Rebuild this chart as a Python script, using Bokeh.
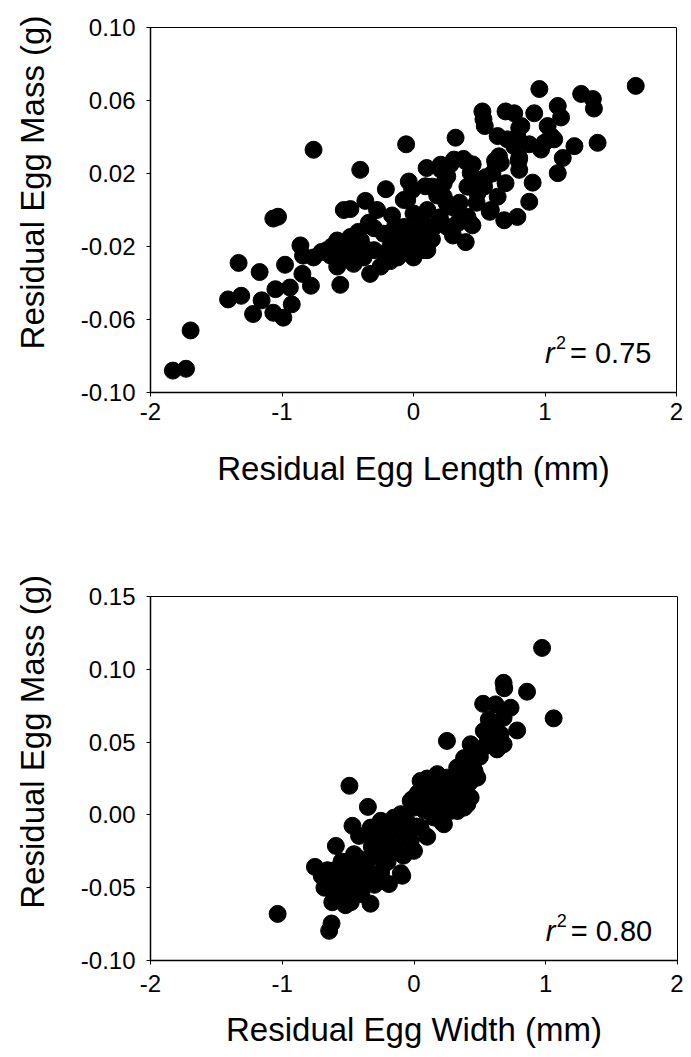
from bokeh.plotting import figure
from bokeh.models import Range1d, FixedTicker, PrintfTickFormatter, Label
from bokeh.layouts import column
from bokeh.embed import file_html
from bokeh.resources import INLINE

FONT = "Liberation Sans"

# ---- Panel 1: residual egg length vs residual egg mass ----
length_x = [-1.83, -1.73, -1.695, -1.41, -1.31, -1.33, -1.17, -1.155, -1.22, -1.066,
            -1.03, -1.05, -0.94, -0.926, -1.066, -0.99, -0.977, -0.845, -0.78, -0.86,
            -0.84, -0.76, -0.70, -0.66, -0.76, -0.58, -0.557, -0.58, -0.557, -0.53,
            -0.48, -0.48, -0.40, -0.455, -0.455, -0.33, -0.25, -0.176, -0.405, -0.366,
            -0.30, -0.227, -0.176, -0.30, -0.277, -0.163, -0.074, -0.21, -0.056, -0.036,
            -0.01, -0.048, -0.10, -0.023, 0.053, -0.048, 0.0, -0.074, 0.0, 0.053,
            0.105, 0.10, 0.053, 0.105, 0.155, 0.257, 0.333, 0.105, 0.143, 0.23,
            0.257, 0.23, 0.282, 0.333, 0.41, 0.448, 0.397, 0.206, 0.308, 0.397,
            0.435, 0.448, 0.486, 0.41, 0.537, 0.32, 0.65, 0.626, 0.664, 0.804,
            0.804, 0.906, 0.88, 0.70, 0.64, 0.588, 0.69, 0.79, 0.524, 0.532,
            0.542, 0.70, 0.766, 0.918, 0.957, 1.097, 1.122, 1.275, 1.364, 1.372,
            0.804, 1.02, 1.046, 0.995, 0.97, 1.07, 0.88, 0.64, 0.715, 0.766,
            1.224, 1.40, 1.135, 1.097, 1.69, -0.34, -0.16, -0.11, 0.03, 0.08,
            0.18, 0.21, 0.28, 0.38, 0.35, 0.38, 0.43, 0.62, 0.79, 0.80,
            0.82, -0.63, -0.53, -0.38, -0.12, 0.45, 0.58, 0.09, -0.62, -0.50,
            -0.42, -0.35, -0.22, -0.14, -0.04, 0.02, 0.14, 0.20, 0.30, 0.25,
            0.48, 0.55, 0.60]
length_mass = [-0.088, -0.087, -0.066, -0.049, -0.047, -0.029, -0.034, -0.0495, -0.057, -0.0047,
               -0.0037, -0.0434, -0.0425, -0.0517, -0.0563, -0.059, -0.030, -0.035, -0.0415, -0.0194,
               -0.025, -0.026, -0.023, -0.022, 0.033, -0.0167, -0.024, -0.031, -0.041, 0.0,
               0.0005, -0.0148, -0.0167, -0.022, -0.0295, -0.035, -0.031, -0.028, 0.022, 0.005,
               -0.010, -0.013, -0.020, -0.022, 0.0, -0.003, 0.0055, 0.0114, 0.036, 0.0156,
               0.011, 0.0055, -0.0148, -0.024, -0.020, -0.0167, -0.026, -0.0093, -0.0019, -0.004,
               -0.009, 0.023, -0.0166, 0.0, -0.0093, -0.0093, -0.0074, -0.022, 0.0128, 0.0147,
               0.0184, 0.0073, 0.0018, 0.0, -0.0037, -0.0084, -0.0176, 0.0248, 0.0276, 0.0267,
               0.0203, 0.0147, 0.0092, 0.0128, 0.0128, 0.0396, 0.0294, 0.0248, 0.0258, 0.0285,
               0.022, 0.015, 0.0045, 0.0147, 0.0073, 0.0, -0.0056, -0.0038, 0.054, 0.0497,
               0.046, 0.054, 0.053, 0.053, 0.0663, 0.057, 0.0507, 0.0636, 0.0608, 0.0556,
               0.045, 0.046, 0.0405, 0.0368, 0.0331, 0.0387, 0.036, 0.0405, 0.0387, 0.035,
               0.035, 0.0368, 0.0285, 0.0202, 0.068, -0.007, -0.013, -0.019, -0.004, -0.022,
               0.008, 0.022, 0.025, 0.028, 0.004, -0.004, -0.007, 0.027, 0.040, 0.027,
               0.046, -0.025, -0.020, -0.026, -0.026, 0.025, -0.001, 0.013, -0.020, -0.026,
               -0.012, -0.022, -0.024, -0.009, -0.012, -0.012, -0.016, -0.004, -0.014, 0.004,
               0.004, 0.018, 0.020]

# ---- Panel 2: residual egg width vs residual egg mass ----
width_x = [-0.49, -1.035, -0.626, -0.644, -0.35, -0.467, -0.417, -0.593, -0.752, -0.33,
           -0.19, -0.089, -0.58, -0.48, -0.40, -0.68, -0.606, -0.53, -0.455, -0.657,
           -0.38, -0.278, -0.227, -0.177, -0.328, -0.38, -0.455, -0.30, -0.227, -0.152,
           -0.252, -0.328, -0.025, 0.0, -0.076, -0.10, -0.025, 0.05, 0.0, 0.127,
           0.177, 0.05, 0.215, 0.177, 0.25, 0.30, 0.354, 0.43, 0.404, 0.25,
           0.33, 0.972, 0.68, 0.685, 0.858, 1.06, 0.525, 0.619, 0.733, 0.568,
           0.68, 0.783, 0.53, 0.657, 0.68, 0.63, 0.543, 0.43, 0.38, 0.328,
           0.455, 0.404, 0.48, 0.278, 0.16, 0.127, 0.227, 0.328, 0.43, 0.177,
           0.278, 0.38, 0.152, 0.227, -0.013, -0.10, 0.10, -0.50, -0.55, -0.62,
           -0.52, -0.42, -0.25, -0.20, -0.05, 0.08, 0.03, 0.10, -0.70, -0.62,
           -0.56, -0.50, -0.44, -0.60, -0.52, -0.42, -0.35, -0.30, -0.25, -0.32,
           -0.27, -0.20, -0.14, -0.08, -0.12, -0.05, 0.02, 0.06, 0.12, 0.08,
           0.20, 0.26, 0.32, 0.36, 0.42, 0.46, 0.50, 0.56, 0.60]
width_mass = [0.020, -0.068, -0.0746, -0.0796, 0.0055, -0.0075, -0.0144, -0.0213, -0.0357, -0.061,
              -0.0475, -0.0418, -0.0567, -0.060, -0.0544, -0.050, -0.045, -0.041, -0.036, -0.038,
              -0.045, -0.041, -0.034, -0.027, -0.029, -0.034, -0.027, -0.018, -0.011, -0.0019,
              -0.0041, -0.0087, -0.018, -0.0247, -0.0132, 0.0005, 0.0096, 0.0233, 0.005, 0.0165,
              0.0005, -0.0087, -0.0053, 0.028, 0.0256, 0.0096, 0.0187, 0.037, 0.0073, 0.0508,
              0.0027, 0.1147, 0.0907, 0.087, 0.0846, 0.0663, 0.0763, 0.0759, 0.0736, 0.0656,
              0.0667, 0.058, 0.0576, 0.0553, 0.0485, 0.045, 0.0473, 0.0485, 0.039, 0.0325,
              0.037, 0.028, 0.0256, 0.0233, 0.022, 0.0187, 0.0142, 0.0142, 0.0119, 0.0073,
              0.0027, 0.005, -0.0018, -0.0064, 0.0108, -0.040, -0.015, -0.050, -0.032, -0.060,
              -0.062, -0.048, -0.022, -0.015, -0.005, 0.003, 0.015, 0.025, -0.042, -0.052,
              -0.047, -0.044, -0.042, -0.038, -0.034, -0.030, -0.038, -0.048, -0.040, -0.022,
              -0.028, -0.032, -0.022, -0.028, -0.008, -0.012, -0.008, 0.010, 0.006, 0.020,
              0.020, 0.015, 0.024, 0.030, 0.022, 0.030, 0.040, 0.052, 0.060]

x_ticks = [-2, -1, 0, 1, 2]
length_y_ticks = [-0.10, -0.06, -0.02, 0.02, 0.06, 0.10]
width_y_ticks = [-0.10, -0.05, 0.00, 0.05, 0.10, 0.15]

x_title_1 = "Residual Egg Length (mm)"
x_title_2 = "Residual Egg Width (mm)"
y_title = "Residual Egg Mass (g)"
r2_values = ["0.75", "0.80"]


def make_panel(xs, ys, y_lo, y_hi, yticks, xtitle, r2, r2_x, r2_y,
               frame_w, frame_h, left, top, right, bottom,
               xtick_standoff, xtitle_standoff, ytitle_lift):
    p = figure(frame_width=frame_w, frame_height=frame_h,
               x_range=Range1d(-2, 2), y_range=Range1d(y_lo, y_hi),
               output_backend="svg", toolbar_location=None,
               min_border_left=left, min_border_top=top,
               min_border_right=right, min_border_bottom=bottom)
    p.grid.visible = False
    p.background_fill_color = "white"
    p.border_fill_color = "white"
    p.outline_line_color = "black"
    p.outline_line_width = 1

    p.scatter(xs, ys, size=17, color="black", line_color="black")

    p.xaxis.ticker = FixedTicker(ticks=x_ticks)
    p.xaxis.formatter = PrintfTickFormatter(format="%d")
    p.yaxis.ticker = FixedTicker(ticks=yticks)
    p.yaxis.formatter = PrintfTickFormatter(format="%.2f")

    for ax in (p.xaxis, p.yaxis):
        ax.axis_line_color = "black"
        ax.axis_line_width = 1.5
        ax.major_tick_line_color = "black"
        ax.major_tick_line_width = 1
        ax.major_tick_in = 0
        ax.major_tick_out = 4
        ax.minor_tick_line_color = None
        ax.major_label_text_font = FONT
        ax.major_label_text_font_size = "24px"
        ax.major_label_text_color = "black"
        ax.axis_label_text_font = FONT
        ax.axis_label_text_font_size = "33px"
        ax.axis_label_text_font_style = "normal"
        ax.axis_label_text_color = "black"

    p.xaxis.axis_label = xtitle
    p.xaxis.major_label_standoff = xtick_standoff
    p.xaxis.axis_label_standoff = xtitle_standoff
    # the original's y title sits above the frame centre; leading no-break
    # spaces lift the visible text while Bokeh keeps the string centred
    p.yaxis.axis_label = "\u00a0" * ytitle_lift + y_title
    p.yaxis.major_label_standoff = 11
    p.yaxis.axis_label_standoff = 27

    p.add_layout(Label(x=r2_x, y=r2_y, text="r", text_font=FONT,
                       text_font_style="italic", text_font_size="29px",
                       text_color="black", text_baseline="alphabetic"))
    p.add_layout(Label(x=r2_x, y=r2_y, x_offset=11, y_offset=11, text="2",
                       text_font=FONT, text_font_size="18px",
                       text_color="black", text_baseline="alphabetic"))
    p.add_layout(Label(x=r2_x, y=r2_y, x_offset=25, text="= " + r2,
                       text_font=FONT, text_font_size="29px",
                       text_color="black", text_baseline="alphabetic"))
    return p


p1 = make_panel(length_x, length_mass, -0.10, 0.10, length_y_ticks, x_title_1,
                r2_values[0], 1.0, -0.0785,
                526, 365, 150, 27, 10, 148, 6, 27, 6)
p2 = make_panel(width_x, width_mass, -0.10, 0.15, width_y_ticks, x_title_2,
                r2_values[1], 1.0, -0.0800,
                527, 364, 146, 56, 10, 97, 10, 16, 8)

layout = column(p1, p2, spacing=0)
open("out.html", "w").write(file_html(layout, INLINE))
